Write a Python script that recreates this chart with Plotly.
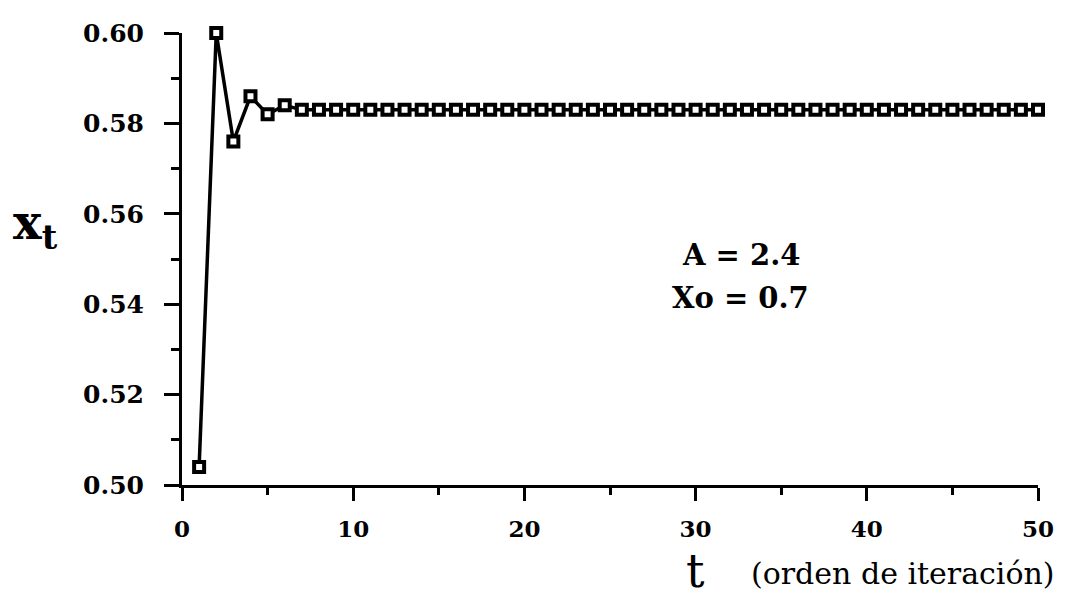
import plotly.graph_objects as go

# iteration index t
t_values = list(range(1, 51))
# x_t values
x_values = [0.504, 0.600, 0.576, 0.586, 0.582, 0.584,
            0.583, 0.583, 0.583, 0.583, 0.583, 0.583, 0.583, 0.583, 0.583,
            0.583, 0.583, 0.583, 0.583, 0.583, 0.583, 0.583, 0.583, 0.583,
            0.583, 0.583, 0.583, 0.583, 0.583, 0.583, 0.583, 0.583, 0.583,
            0.583, 0.583, 0.583, 0.583, 0.583, 0.583, 0.583, 0.583, 0.583,
            0.583, 0.583, 0.583, 0.583, 0.583, 0.583, 0.583, 0.583]
x_ticks = [0, 10, 20, 30, 40, 50]
y_ticks = [0.50, 0.52, 0.54, 0.56, 0.58, 0.60]
param_text = ["A = 2.4", "Xo = 0.7"]

FONT = "DejaVu Serif"

fig = go.Figure()
fig.add_trace(go.Scatter(
    x=t_values, y=x_values, mode="lines+markers",
    line=dict(color="black", width=3.5),
    marker=dict(symbol="square", size=10, color="white",
                line=dict(color="black", width=4)),
    cliponaxis=False, showlegend=False,
))

fig.update_layout(
    width=1068, height=600,
    margin=dict(l=182, r=30, t=33, b=115),
    plot_bgcolor="white", paper_bgcolor="white",
    font=dict(family=FONT, color="black"),
    xaxis=dict(
        range=[0, 50], tickvals=x_ticks, showgrid=False, zeroline=False,
        showline=True, linecolor="black", linewidth=3,
        ticks="outside", ticklen=13, tickwidth=3, tickcolor="black",
        tickfont=dict(family=FONT, size=23, color="black", weight="bold"),
        minor=dict(dtick=5, ticks="outside", ticklen=7, tickwidth=3, tickcolor="black"),
        ticklabelstandoff=8,
    ),
    yaxis=dict(
        range=[0.50, 0.60], tickvals=y_ticks, tickformat=".2f",
        showgrid=False, zeroline=False,
        showline=True, linecolor="black", linewidth=3,
        ticks="outside", ticklen=15, tickwidth=3, tickcolor="black",
        tickfont=dict(family=FONT, size=25, color="black", weight="bold"),
        minor=dict(dtick=0.01, ticks="outside", ticklen=8, tickwidth=3, tickcolor="black"),
        ticklabelstandoff=15,
    ),
)

fig.add_annotation(xref="paper", yref="paper", x=0.653, y=0.509,
                   text=param_text[0], showarrow=False,
                   font=dict(family=FONT, size=29, color="black", weight="bold"),
                   xanchor="center", yanchor="middle")
fig.add_annotation(xref="paper", yref="paper", x=0.653, y=0.414,
                   text=param_text[1], showarrow=False,
                   font=dict(family=FONT, size=29, color="black", weight="bold"),
                   xanchor="center", yanchor="middle")

# axis titles
fig.add_annotation(xref="paper", yref="paper", x=-0.143, y=0.575,
                   text="x<sub>t</sub>", showarrow=False,
                   font=dict(family=FONT, size=48, color="black", weight="bold"),
                   xanchor="right", yanchor="middle")
fig.add_annotation(xref="paper", yref="paper", x=0.6, y=-0.19,
                   text="t", showarrow=False,
                   font=dict(family=FONT, size=46, color="black"),
                   xanchor="center", yanchor="middle")
fig.add_annotation(xref="paper", yref="paper", x=1.022, y=-0.195,
                   text="(orden de iteración)", showarrow=False,
                   font=dict(family=FONT, size=30, color="black"),
                   xanchor="right", yanchor="middle")

fig.write_html("out.html")
